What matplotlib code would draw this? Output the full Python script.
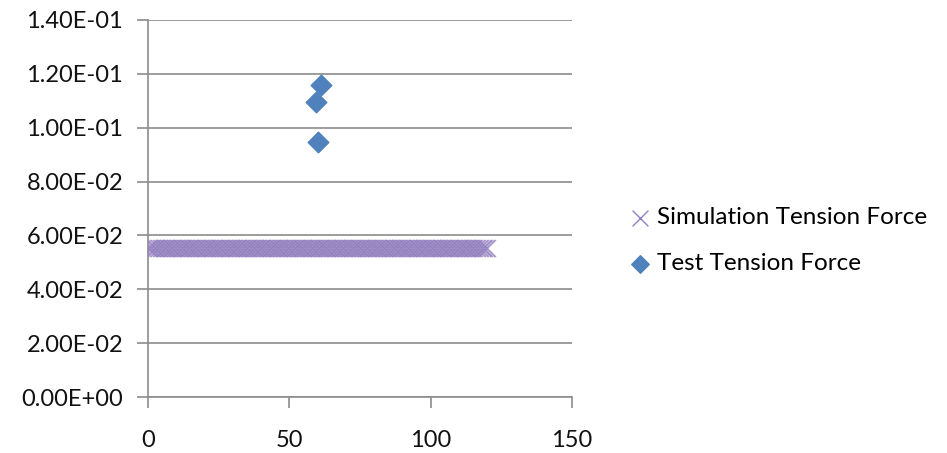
import numpy as np
import matplotlib
matplotlib.use("Agg")
import matplotlib.pyplot as plt
from matplotlib.ticker import FuncFormatter

plt.rcParams['font.family'] = ['Lato', 'DejaVu Sans']

# simulation: evenly sampled, flat tension force
sim_x = np.arange(0, 120.5, 0.5)
sim_level = 0.0555
sim_y = np.full(sim_x.shape, sim_level)

# test measurements
test_x = [61.2, 59.3, 60.3]
test_y = [0.1158, 0.1096, 0.0947]

fig = plt.figure(figsize=(9.47, 4.53), dpi=100)
ax = fig.add_axes([148 / 947, 56 / 453, 424 / 947, 377 / 453])

ax.scatter(sim_x, sim_y, marker='x', s=150, color='#9480c0', linewidths=1.0,
           alpha=0.7, label='Simulation Tension Force', zorder=3)
ax.scatter(test_x, test_y, marker='D', s=110, color='#4f81bd', edgecolors='#4f81bd',
           label='Test Tension Force', zorder=4)

ax.set_xlim(0, 150)
ax.set_ylim(0, 0.14)
ax.set_xticks([0, 50, 100, 150])
ax.set_yticks(np.arange(0, 0.1401, 0.02))
ax.yaxis.set_major_formatter(FuncFormatter(lambda v, p: f'{v:.2E}'))

ax.grid(axis='y', color='#8c8c8c', linewidth=1.2)
ax.set_axisbelow(True)
for s in ['top', 'right']:
    ax.spines[s].set_visible(False)
for s in ['left', 'bottom']:
    ax.spines[s].set_color('#8c8c8c')
    ax.spines[s].set_linewidth(1.2)
ax.tick_params(axis='both', colors='#8c8c8c', length=8, width=1.2, labelsize=17,
               labelcolor='#111111')
ax.tick_params(axis='x', pad=16)
ax.tick_params(axis='y', pad=10)

leg = fig.legend(loc='upper left', bbox_to_anchor=(604 / 947, 1 - 185 / 453), frameon=False,
                 fontsize=17.5, handletextpad=0.1, labelspacing=1.05, handlelength=1.2,
                 scatterpoints=1)
for h in leg.legend_handles:
    h.set_alpha(1)
leg.legend_handles[0].set_sizes([130])
leg.legend_handles[1].set_sizes([80])

fig.savefig('out.png', dpi=100)
